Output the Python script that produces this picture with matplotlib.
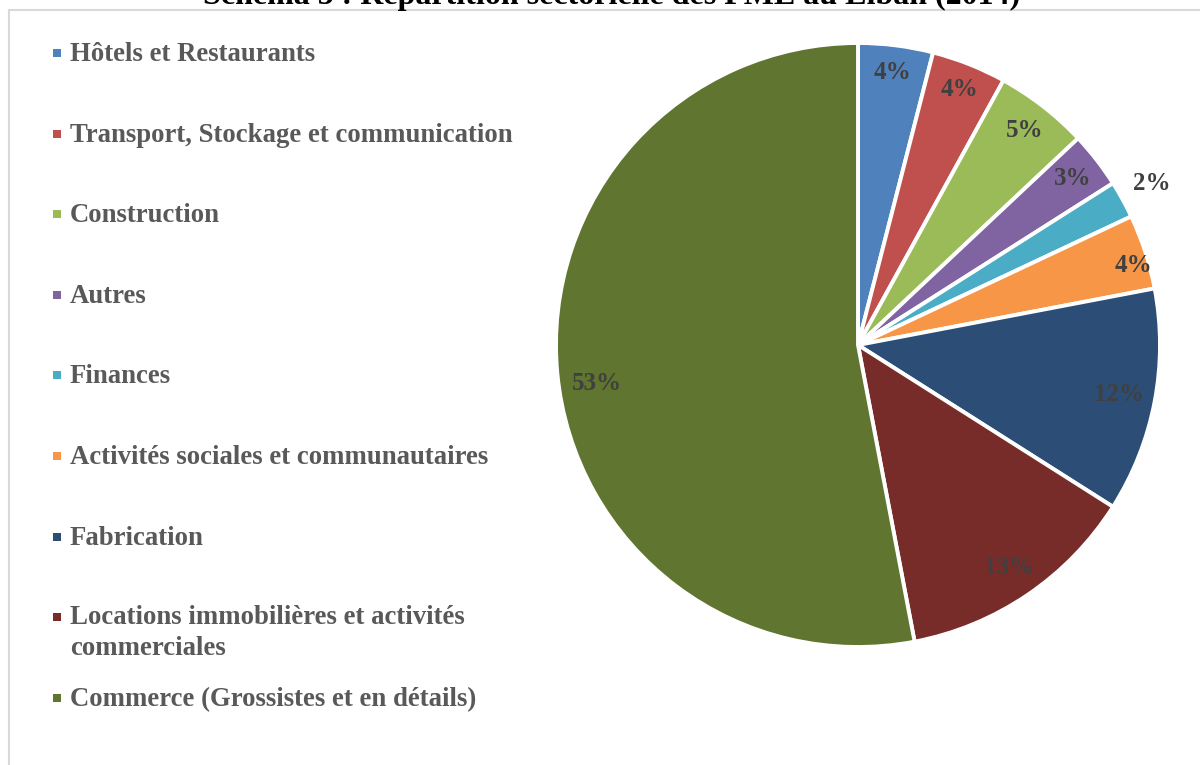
import matplotlib.pyplot as plt
from matplotlib.patches import Rectangle
import numpy as np

# data
secteurs = [
    "Hôtels et Restaurants",
    "Transport, Stockage et communication",
    "Construction",
    "Autres",
    "Finances",
    "Activités sociales et communautaires",
    "Fabrication",
    "Locations immobilières et activités\ncommerciales",
    "Commerce (Grossistes et en détails)",
]
parts = [4, 4, 5, 3, 2, 4, 12, 13, 53]
couleurs = ["#4F81BD", "#C0504D", "#9BBB59", "#8064A2", "#4BACC6",
            "#F79646", "#2C4D75", "#772C2A", "#5F7530"]

titre = "Schéma 5 : Répartition sectorielle des PME au Liban (2014)"

W, H = 1200, 765
fig = plt.figure(figsize=(W / 100, H / 100), dpi=100)
fig.patch.set_facecolor("white")

SERIF = ["Liberation Serif", "DejaVu Serif"]

# frame of the chart area (goes out of the picture on right and bottom)
fig.patches.append(Rectangle((9 / W, -0.1), 1.2, (H - 10) / H + 0.1,
                             transform=fig.transFigure, fill=False,
                             edgecolor="#d9d9d9", linewidth=1.5))

# title, mostly cut at the top
fig.text(612 / W, 1 - 4 / H, titre, ha="center", va="baseline",
         fontsize=23, fontweight="bold", family=SERIF, color="black")

# pie
ax = fig.add_axes([556 / W, (H - 647) / H, 604 / W, 604 / H])
wedges, texts = ax.pie(parts, colors=couleurs, startangle=90, counterclock=False,
                       radius=1, wedgeprops=dict(edgecolor="white", linewidth=2.8))
ax.set_xlim(-1, 1)
ax.set_ylim(-1, 1)
ax.set_aspect("equal")
ax.axis("off")

# percentage labels
dist = [0.91, 0.91, 0.90, 0.90, 1.11, 0.95, 0.88, 0.89, 0.875]
shift = [0, 0, 0, 0, 0, -2, 0, 0, 3]  # small angle tweaks (deg)
for w, p, d, s in zip(wedges, parts, dist, shift):
    ang = np.deg2rad((w.theta1 + w.theta2) / 2 + s)
    ax.text(d * np.cos(ang), d * np.sin(ang), f"{p}%", ha="center", va="center",
            fontsize=18, fontweight="bold", family=SERIF, color="#404040")

# legend drawn by hand
y0, dy, line_h = 53, 80.6, 30
for i, (lab, c) in enumerate(zip(secteurs, couleurs)):
    y = y0 + i * dy
    n = lab.count("\n")
    fig.patches.append(Rectangle((53 / W, 1 - (y + 4) / H), 8 / W, 8 / H,
                                 transform=fig.transFigure, facecolor=c,
                                 edgecolor="none"))
    fig.text(70 / W, 1 - (y + 8 + n * line_h) / H, lab, ha="left", va="baseline",
             fontsize=19.3, fontweight="bold", family=SERIF, color="#595959",
             linespacing=1.3)

fig.savefig("out.png", dpi=100)
